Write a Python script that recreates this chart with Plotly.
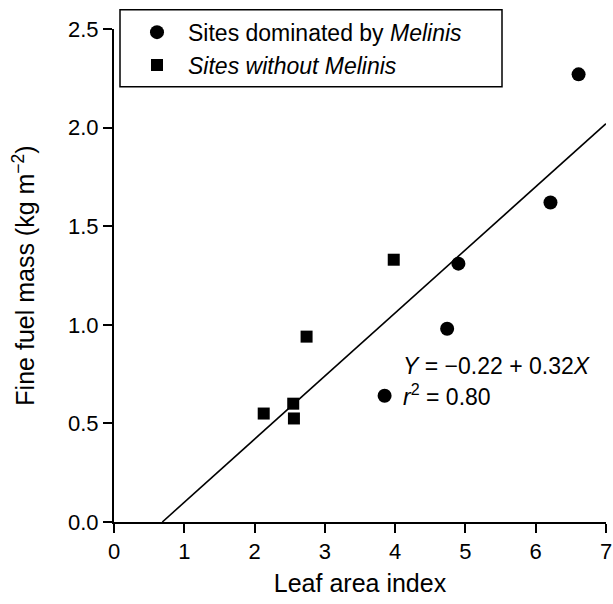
import plotly.graph_objects as go

# Data
melinis_lai = [6.61, 6.21, 4.90, 4.74, 3.85]
melinis_mass = [2.27, 1.62, 1.31, 0.98, 0.64]
without_lai = [3.98, 2.74, 2.13, 2.55, 2.56]
without_mass = [1.33, 0.94, 0.55, 0.60, 0.525]
intercept = -0.22
slope = 0.32
r2 = 0.80
x_ticks = [0, 1, 2, 3, 4, 5, 6, 7]
y_ticks = [0.0, 0.5, 1.0, 1.5, 2.0, 2.5]

FONT = "Liberation Sans, Arial, Helvetica, sans-serif"

x0 = -intercept / slope
line_x = [x0, 7.0]
line_y = [intercept + slope * v for v in line_x]

fig = go.Figure()
fig.add_trace(go.Scatter(x=line_x, y=line_y, mode="lines",
                         line=dict(color="black", width=1.6), showlegend=False,
                         hoverinfo="skip", cliponaxis=False))
fig.add_trace(go.Scatter(x=melinis_lai, y=melinis_mass, mode="markers",
                         name="\u00a0\u2009Sites dominated by <i>Melinis</i>",
                         marker=dict(symbol="circle", size=14, color="black")))
fig.add_trace(go.Scatter(x=without_lai, y=without_mass, mode="markers",
                         name="\u00a0\u2009<i>Sites without Melinis</i>",
                         marker=dict(symbol="square", size=12, color="black")))

fig.add_annotation(x=4.09, y=0.79, xref="x", yref="y", xanchor="left", yanchor="middle",
                   text="<i>Y</i> = \u22120.22 + 0.32<i>X</i>", showarrow=False,
                   font=dict(size=23, color="black", family=FONT))
fig.add_annotation(x=4.09, y=0.645, xref="x", yref="y", xanchor="left", yanchor="middle",
                   text="<i>r</i><sup>2</sup> = %.2f" % r2, showarrow=False,
                   font=dict(size=23, color="black", family=FONT))

axis_common = dict(showgrid=False, zeroline=False, showline=True, linecolor="black",
                   linewidth=2, ticks="outside", ticklen=9, tickwidth=2,
                   tickcolor="black", automargin=False,
                   tickfont=dict(size=22, color="black", family=FONT),
                   title_font=dict(size=25, color="black", family=FONT))

fig.update_xaxes(range=[0, 7], tickvals=x_ticks, ticktext=[str(v) for v in x_ticks],
                 title_text="Leaf area index", title_standoff=11, **axis_common)
fig.update_yaxes(range=[0, 2.5], tickvals=y_ticks, ticktext=["%.1f" % v for v in y_ticks],
                 title_text="Fine fuel mass (kg m<sup>\u22122</sup>)", title_standoff=26,
                 **axis_common)

# legend frame drawn as a shape
L, T, R, B = 120, 10, 502, 87
pw, ph = 492, 492.4
fig.add_shape(type="rect", xref="paper", yref="paper",
              x0=(L - 114) / pw, x1=(R - 114) / pw,
              y0=(521.7 - B) / ph, y1=(521.7 - T) / ph,
              line=dict(color="black", width=1.5), fillcolor="white", layer="below")

fig.update_layout(
    width=613, height=604,
    margin=dict(l=114, r=7, t=29, b=82, autoexpand=False),
    plot_bgcolor="white", paper_bgcolor="white",
    font=dict(family=FONT, color="black"),
    legend=dict(x=(137 - 114) / pw, y=(521.7 - 11) / ph, xanchor="left", yanchor="top",
                borderwidth=0, bgcolor="rgba(0,0,0,0)",
                font=dict(size=23, color="black", family=FONT),
                tracegroupgap=0, itemwidth=30),
)

fig.write_html("out.html", config={"displayModeBar": False},
               post_script="document.body.style.margin='0px';")
